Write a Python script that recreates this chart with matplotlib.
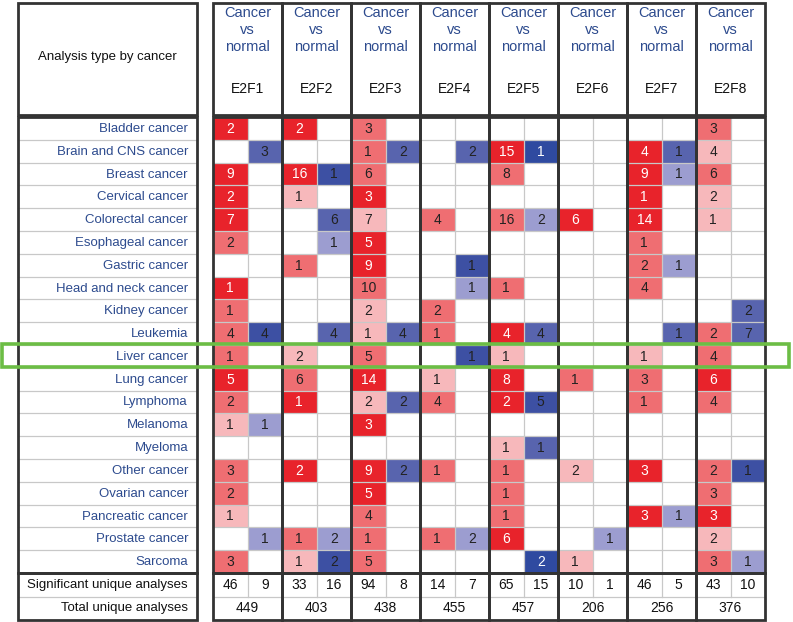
import matplotlib.pyplot as plt
from matplotlib.patches import Rectangle

plt.rcParams['font.family'] = ['Liberation Sans', 'DejaVu Sans']

cancers = ['Bladder cancer', 'Brain and CNS cancer', 'Breast cancer', 'Cervical cancer',
           'Colorectal cancer', 'Esophageal cancer', 'Gastric cancer', 'Head and neck cancer',
           'Kidney cancer', 'Leukemia', 'Liver cancer', 'Lung cancer', 'Lymphoma',
           'Melanoma', 'Myeloma', 'Other cancer', 'Ovarian cancer', 'Pancreatic cancer',
           'Prostate cancer', 'Sarcoma']
genes = ['E2F1', 'E2F2', 'E2F3', 'E2F4', 'E2F5', 'E2F6', 'E2F7', 'E2F8']

# columns: (up, down) for each gene, 0 = empty cell
counts = [
    [2, 0, 2, 0, 3, 0, 0, 0, 0, 0, 0, 0, 0, 0, 3, 0],
    [0, 3, 0, 0, 1, 2, 0, 2, 15, 1, 0, 0, 4, 1, 4, 0],
    [9, 0, 16, 1, 6, 0, 0, 0, 8, 0, 0, 0, 9, 1, 6, 0],
    [2, 0, 1, 0, 3, 0, 0, 0, 0, 0, 0, 0, 1, 0, 2, 0],
    [7, 0, 0, 6, 7, 0, 4, 0, 16, 2, 6, 0, 14, 0, 1, 0],
    [2, 0, 0, 1, 5, 0, 0, 0, 0, 0, 0, 0, 1, 0, 0, 0],
    [0, 0, 1, 0, 9, 0, 0, 1, 0, 0, 0, 0, 2, 1, 0, 0],
    [1, 0, 0, 0, 10, 0, 0, 1, 1, 0, 0, 0, 4, 0, 0, 0],
    [1, 0, 0, 0, 2, 0, 2, 0, 0, 0, 0, 0, 0, 0, 0, 2],
    [4, 4, 0, 4, 1, 4, 1, 0, 4, 4, 0, 0, 0, 1, 2, 7],
    [1, 0, 2, 0, 5, 0, 0, 1, 1, 0, 0, 0, 1, 0, 4, 0],
    [5, 0, 6, 0, 14, 0, 1, 0, 8, 0, 1, 0, 3, 0, 6, 0],
    [2, 0, 1, 0, 2, 2, 4, 0, 2, 5, 0, 0, 1, 0, 4, 0],
    [1, 1, 0, 0, 3, 0, 0, 0, 0, 0, 0, 0, 0, 0, 0, 0],
    [0, 0, 0, 0, 0, 0, 0, 0, 1, 1, 0, 0, 0, 0, 0, 0],
    [3, 0, 2, 0, 9, 2, 1, 0, 1, 0, 2, 0, 3, 0, 2, 1],
    [2, 0, 0, 0, 5, 0, 0, 0, 1, 0, 0, 0, 0, 0, 3, 0],
    [1, 0, 0, 0, 4, 0, 0, 0, 1, 0, 0, 0, 3, 1, 3, 0],
    [0, 1, 1, 2, 1, 0, 1, 2, 6, 0, 0, 1, 0, 0, 2, 0],
    [3, 0, 1, 2, 5, 0, 0, 0, 0, 2, 1, 0, 0, 0, 3, 1],
]
# shade rank: 1..3 red (over), -1..-4 blue (under)
shades = [
    [3, 0, 3, 0, 2, 0, 0, 0, 0, 0, 0, 0, 0, 0, 2, 0],
    [0, -2, 0, 0, 2, -2, 0, -2, 3, -4, 0, 0, 3, -2, 1, 0],
    [3, 0, 3, -3, 2, 0, 0, 0, 2, 0, 0, 0, 3, -1, 2, 0],
    [3, 0, 1, 0, 3, 0, 0, 0, 0, 0, 0, 0, 3, 0, 1, 0],
    [3, 0, 0, -2, 1, 0, 2, 0, 2, -1, 3, 0, 3, 0, 1, 0],
    [2, 0, 0, -1, 3, 0, 0, 0, 0, 0, 0, 0, 2, 0, 0, 0],
    [0, 0, 2, 0, 3, 0, 0, -3, 0, 0, 0, 0, 2, -1, 0, 0],
    [3, 0, 0, 0, 2, 0, 0, -1, 2, 0, 0, 0, 2, 0, 0, 0],
    [2, 0, 0, 0, 1, 0, 2, 0, 0, 0, 0, 0, 0, 0, 0, -2],
    [2, -3, 0, -2, 1, -2, 2, 0, 3, -2, 0, 0, 0, -2, 2, -2],
    [2, 0, 1, 0, 2, 0, 0, -3, 1, 0, 0, 0, 1, 0, 2, 0],
    [3, 0, 2, 0, 3, 0, 1, 0, 3, 0, 2, 0, 2, 0, 3, 0],
    [2, 0, 3, 0, 1, -2, 2, 0, 3, -3, 0, 0, 2, 0, 2, 0],
    [1, -1, 0, 0, 3, 0, 0, 0, 0, 0, 0, 0, 0, 0, 0, 0],
    [0, 0, 0, 0, 0, 0, 0, 0, 1, -2, 0, 0, 0, 0, 0, 0],
    [2, 0, 3, 0, 3, -2, 2, 0, 2, 0, 1, 0, 3, 0, 2, -3],
    [2, 0, 0, 0, 3, 0, 0, 0, 2, 0, 0, 0, 0, 0, 2, 0],
    [1, 0, 0, 0, 2, 0, 0, 0, 2, 0, 0, 0, 3, -1, 3, 0],
    [0, -1, 2, -1, 2, 0, 2, -1, 3, 0, 0, -1, 0, 0, 1, 0],
    [2, 0, 1, -3, 2, 0, 0, 0, 0, -4, 1, 0, 0, 0, 2, -1],
]
significant = [46, 9, 33, 16, 94, 8, 14, 7, 65, 15, 10, 1, 46, 5, 43, 10]
total = [449, 403, 438, 455, 457, 206, 256, 376]
highlight = 'Liver cancer'

shade_colors = {3: '#e8232b', 2: '#ef6e72', 1: '#f7b8bb',
                -1: '#9c9dd0', -2: '#5864ae', -3: '#3d50a3', -4: '#2f4aa0'}
label_blue = '#2d4b8e'
dark = '#333333'
grid = '#c8c8c8'

# layout in pixels
left_x0, left_x1 = 18, 197
gx0, gw = 213, 69
head_top, head_bot = 3, 115
row_top, row_h = 117, 22.8
sum_h = 23.5

fig = plt.figure(figsize=(7.93, 6.22), dpi=100)
ax = fig.add_axes([0, 0, 1, 1])
ax.set_xlim(0, 793)
ax.set_ylim(622, 0)
ax.axis('off')

n = len(cancers)
body_bot = row_top + n * row_h
sum_bot = body_bot + 2 * sum_h
gx1 = gx0 + gw * len(genes)
cw = gw / 2

# cells
for i in range(n):
    y = row_top + i * row_h
    for j in range(2 * len(genes)):
        x = gx0 + j * cw
        s = shades[i][j]
        if s != 0:
            ax.add_patch(Rectangle((x, y), cw, row_h, facecolor=shade_colors[s],
                                   edgecolor='none', zorder=1))
        if counts[i][j]:
            tc = 'white' if s in (3, -4) else '#222222'
            ax.text(x + cw / 2, y + row_h / 2 + 0.5, str(counts[i][j]), ha='center',
                    va='center', fontsize=10, color=tc, zorder=4)
    ax.text(left_x1 - 9, y + row_h / 2 + 0.5, cancers[i], ha='right', va='center',
            fontsize=9.5, color=label_blue, zorder=4)

# light grid lines
for i in range(1, n + 2):
    y = row_top + i * row_h if i <= n else body_bot + sum_h
    ax.plot([left_x0, left_x1], [y, y], color=grid, lw=0.9, zorder=2)
    ax.plot([gx0, gx1], [y, y], color=grid, lw=0.9, zorder=2)
for k in range(len(genes)):
    xm = gx0 + k * gw + cw
    ax.plot([xm, xm], [row_top, body_bot + sum_h], color=grid, lw=0.9, zorder=2)

# thick borders
def box(x0, y0, x1, y1):
    ax.add_patch(Rectangle((x0, y0), x1 - x0, y1 - y0, fill=False,
                           edgecolor=dark, lw=2.0, zorder=3))

box(left_x0, head_top, left_x1, head_bot)
box(left_x0, row_top, left_x1, body_bot)
box(left_x0, body_bot, left_x1, sum_bot)
for k in range(len(genes)):
    x0 = gx0 + k * gw
    box(x0, head_top, x0 + gw, head_bot)
    box(x0, row_top, x0 + gw, body_bot)
    box(x0, body_bot, x0 + gw, sum_bot)
    xc = x0 + gw / 2
    ax.text(xc, 30, 'Cancer\nvs\nnormal', ha='center', va='center', fontsize=10.5,
            color=label_blue, linespacing=1.3)
    ax.text(xc, 89, genes[k], ha='center', va='center', fontsize=10, color='#111111')
    ax.text(xc, body_bot + sum_h * 1.5, str(total[k]), ha='center', va='center',
            fontsize=10, color='#111111')
    for h in range(2):
        ax.text(x0 + h * cw + cw / 2, body_bot + sum_h / 2, str(significant[2 * k + h]),
                ha='center', va='center', fontsize=10, color='#111111')

ax.text((left_x0 + left_x1) / 2, 57, 'Analysis type by cancer', ha='center', va='center',
        fontsize=9.5, color='#111111')
ax.text(left_x1 - 9, body_bot + sum_h / 2, 'Significant unique analyses', ha='right',
        va='center', fontsize=9.5, color='#111111')
ax.text(left_x1 - 9, body_bot + sum_h * 1.5, 'Total unique analyses', ha='right',
        va='center', fontsize=9.5, color='#111111')

# highlighted row
hi = cancers.index(highlight)
hy = row_top + hi * row_h
ax.add_patch(Rectangle((2, hy - 1.5), 787, row_h + 0.5, fill=False,
                       edgecolor='#6cbd45', lw=2.6, zorder=5))

fig.savefig('out.png', dpi=100)
